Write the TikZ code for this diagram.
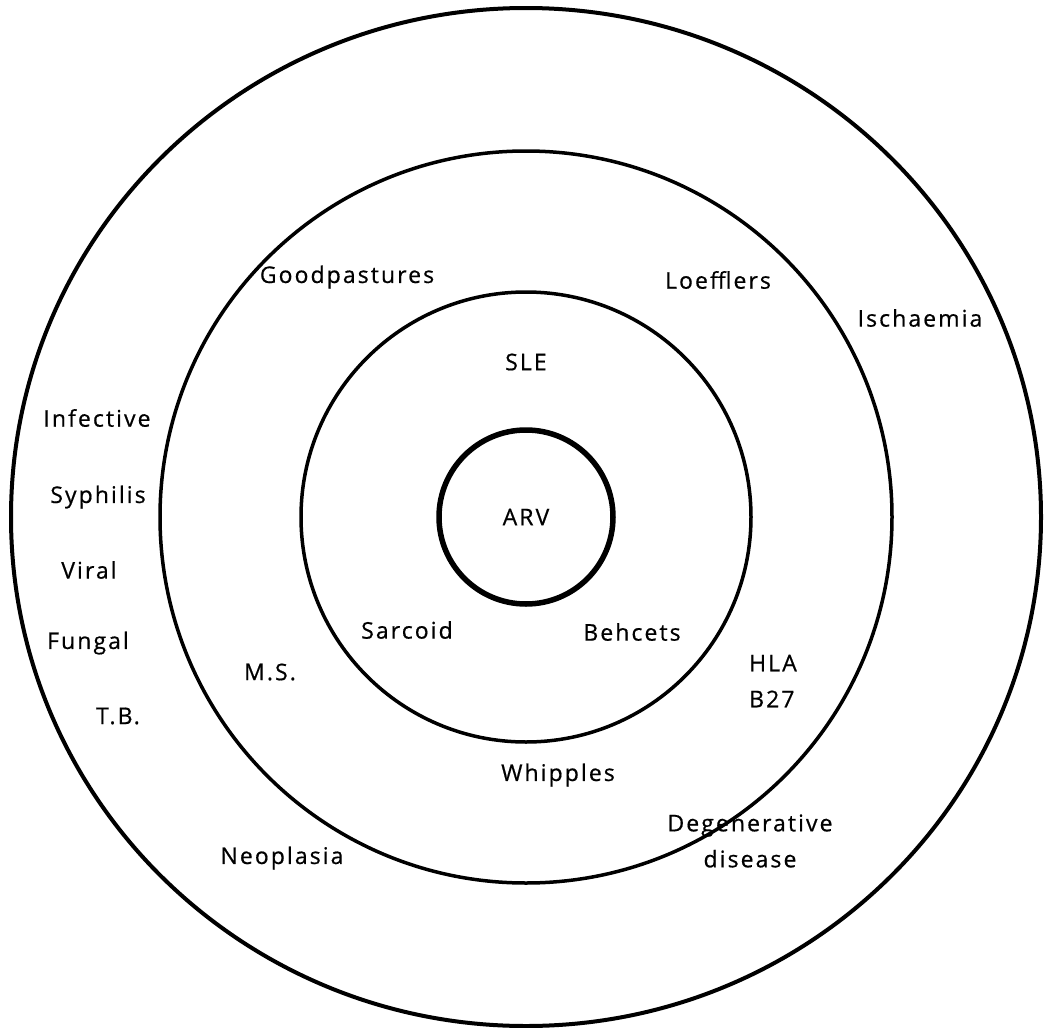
\documentclass[tikz,border=0pt]{standalone}
\usepackage{fontspec}
\newfontfamily\lblfont[LetterSpace=9, FakeBold=0.6]{Open Sans}

\begin{document}
\begin{tikzpicture}[
	x=1pt, y=-1pt,
	ring/.style={ draw, line width=3.5pt },
	lbl/.style={ font=\lblfont\fontsize{23}{36}\selectfont, inner sep=0pt, align=center },
]
\useasboundingbox (0,0) rectangle (1045,1028);

\coordinate (c) at (526,517);
\draw[ring, line width=4pt] (c) circle[x radius=515pt, y radius=509pt];
\draw[ring] (c) circle[radius=366pt];
\draw[ring] (c) circle[radius=225pt];
\draw[ring, line width=5.5pt] (c) circle[radius=87pt];

% centre and first ring
\node at (c) (arv) [lbl] {ARV};
\node at (526,362) (sle) [lbl] {SLE};
\node at (407,630) (sarcoid) [lbl] {Sarcoid};
\node at (632,632) (behcets) [lbl] {Behcets};

% second ring
\node at (347,277) (goodp) [lbl] {Goodpastures};
\node at (718,280) (loeff) [lbl] {Loefflers};
\node at (270,672) (ms) [lbl] {M.S.};
\node at (773,681) (hla) [lbl, align=left] {HLA\\B27};
\node at (558,775) (whipples) [lbl] {Whipples};

% outer ring
\node at (920,318) (ischaemia) [lbl] {Ischaemia};
\node at (97,418) (infective) [lbl] {Infective};
\node at (98,497) (syphilis) [lbl] {Syphilis};
\node at (89,570) (viral) [lbl] {Viral};
\node at (88,643) (fungal) [lbl] {Fungal};
\node at (118,716) (tb) [lbl] {T.B.};
\node at (282,858) (neoplasia) [lbl] {Neoplasia};
\node at (750,841) (degen) [lbl] {Degenerative\\disease};

\end{tikzpicture}
\end{document}
